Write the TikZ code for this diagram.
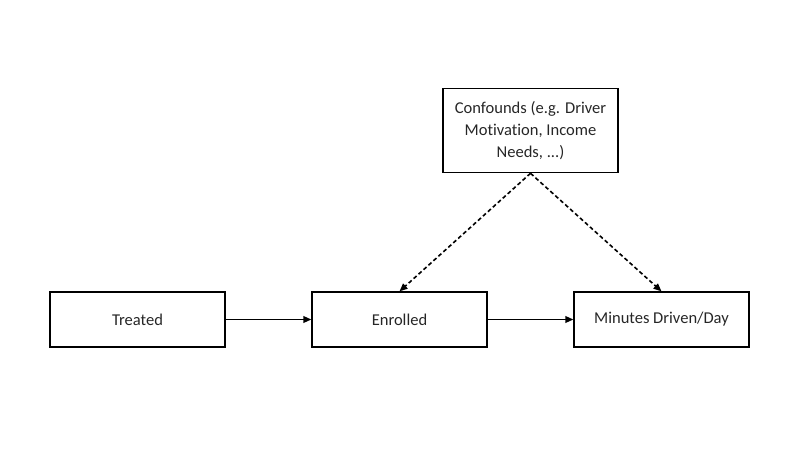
\documentclass[tikz,border=0pt]{standalone}
\usepackage{fontspec}
\setmainfont[Ligatures={NoCommon}]{Carlito}
\usetikzlibrary{arrows.meta}
\begin{document}
\begin{tikzpicture}[x=0.75pt,y=-0.75pt,
  box/.style={draw=black, line width=1.2pt, minimum width=131pt, minimum height=41pt, inner sep=2pt, font=\fontsize{12.4}{16.5}\selectfont, align=center, text=black!85},
  conn/.style={line width=1.2pt, -{Triangle[length=6pt,width=5pt]}},
  dconn/.style={conn, dash pattern=on 3pt off 2pt}]
\useasboundingbox (0,0) rectangle (811,456);
\node[box] (treated) at (137.5,319.5) {Treated};
\node[box] (enrolled) at (399.5,319.5) {Enrolled};
\node[box] (minutes) at (661.5,319.5) {Minutes Driven/Day};
\node[box, minimum height=63pt] (conf) at (530.5,130.5) {Confounds (e.g. Driver\\Motivation, Income\\Needs, ...)};
\draw[conn] (treated.east) -- (enrolled.west);
\draw[conn] (enrolled.east) -- (minutes.west);
\draw[dconn] (conf.south) -- (enrolled.north);
\draw[dconn] (conf.south) -- (minutes.north);
\end{tikzpicture}
\end{document}
